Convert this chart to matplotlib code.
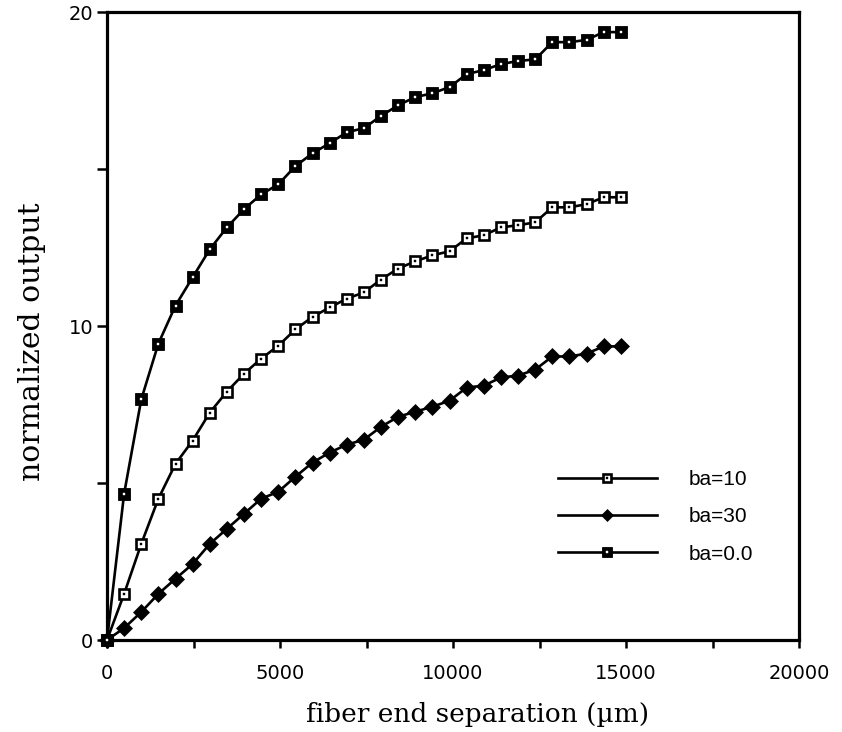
import matplotlib
matplotlib.use("Agg")
import matplotlib.pyplot as plt
from matplotlib.ticker import MultipleLocator, FuncFormatter
from matplotlib.legend_handler import HandlerTuple

# fiber end separation in micrometres
separation_um = [0, 495, 990, 1485, 1980, 2475, 2970, 3465, 3960, 4455, 4950,
                 5445, 5940, 6435, 6930, 7425, 7920, 8415, 8910, 9405, 9900,
                 10395, 10890, 11385, 11880, 12375, 12870, 13365, 13860, 14355, 14850]

# normalized output for each ba value
output_ba10 = [0, 1.47, 3.06, 4.50, 5.61, 6.35, 7.24, 7.91, 8.48, 8.96, 9.37,
               9.89, 10.29, 10.59, 10.87, 11.07, 11.48, 11.83, 12.06, 12.25, 12.38,
               12.79, 12.89, 13.14, 13.21, 13.30, 13.78, 13.78, 13.88, 14.10, 14.10]
output_ba30 = [0, 0.38, 0.89, 1.47, 1.95, 2.42, 3.06, 3.54, 4.02, 4.50, 4.72,
               5.20, 5.65, 5.97, 6.22, 6.38, 6.79, 7.11, 7.27, 7.43, 7.62,
               8.04, 8.10, 8.36, 8.42, 8.61, 9.03, 9.03, 9.12, 9.35, 9.35]
output_ba00 = [0, 4.66, 7.66, 9.44, 10.65, 11.55, 12.44, 13.14, 13.72, 14.19, 14.51,
               15.09, 15.50, 15.82, 16.17, 16.30, 16.69, 17.03, 17.29, 17.41, 17.61,
               18.02, 18.15, 18.34, 18.44, 18.49, 19.04, 19.04, 19.11, 19.36, 19.36]

series_labels = ["ba=10", "ba=30", "ba=0.0"]

fig = plt.figure(figsize=(8.42, 7.32), dpi=100)
ax = fig.add_axes([107 / 842, 1 - 640 / 732, (799 - 107) / 842, (640 - 12) / 732])

lw = 1.9
# ba=10: open squares with a dot in the middle
l10, = ax.plot(separation_um, output_ba10, color="black", lw=lw, marker="s",
               ms=7.0, mfc="white", mec="black", mew=1.9, clip_on=False, zorder=3)
d10, = ax.plot(separation_um, output_ba10, ls="none", marker="s", ms=2.0,
               mfc="black", mec="black", mew=0.3, clip_on=False, zorder=4)
# ba=30: filled diamonds
l30, = ax.plot(separation_um, output_ba30, color="black", lw=lw, marker="D",
               ms=8.0, mfc="black", mec="black", mew=0.5, clip_on=False, zorder=3)
# ba=0.0: filled squares with a light centre
l00, = ax.plot(separation_um, output_ba00, color="black", lw=lw, marker="s",
               ms=8.5, mfc="black", mec="black", mew=0.6, clip_on=False, zorder=3)
d00, = ax.plot(separation_um, output_ba00, ls="none", marker="s", ms=2.0,
               mfc="white", mec="white", mew=0.3, clip_on=False, zorder=4)

ax.set_xlim(0, 20000)
ax.set_ylim(0, 20)

for side in ["left", "right", "top", "bottom"]:
    ax.spines[side].set_linewidth(2.3)

ax.xaxis.set_major_locator(MultipleLocator(2500))
ax.yaxis.set_major_locator(MultipleLocator(5))
ax.xaxis.set_major_formatter(FuncFormatter(lambda v, p: f"{int(v)}" if int(v) % 5000 == 0 else ""))
ax.yaxis.set_major_formatter(FuncFormatter(lambda v, p: f"{int(v)}" if int(v) % 10 == 0 else ""))
ax.tick_params(direction="out", width=1.8, labelsize=14)
ax.tick_params(axis="x", length=6, pad=11)
ax.tick_params(axis="y", length=7, pad=3)

serif = ["DejaVu Serif"]
ax.set_xlabel("fiber end separation (\u00b5m)", family=serif, fontsize=19, labelpad=14)
ax.set_ylabel("normalized output", family=serif, fontsize=21.5, labelpad=16)
ax.xaxis.label.set_x(0.535)
ax.yaxis.label.set_y(0.475)

leg = ax.legend([(l10, d10), l30, (l00, d00)], series_labels,
                handler_map={tuple: HandlerTuple(ndivide=1, pad=0)},
                loc="center left", bbox_to_anchor=(558 / 842, 1 - 517 / 732),
                bbox_transform=fig.transFigure, frameon=False,
                prop={"family": "Liberation Sans", "size": 15},
                handlelength=4.75, handletextpad=1.5, labelspacing=0.87,
                borderpad=0, borderaxespad=0, markerscale=0.8)

fig.savefig("out.png", dpi=100)
